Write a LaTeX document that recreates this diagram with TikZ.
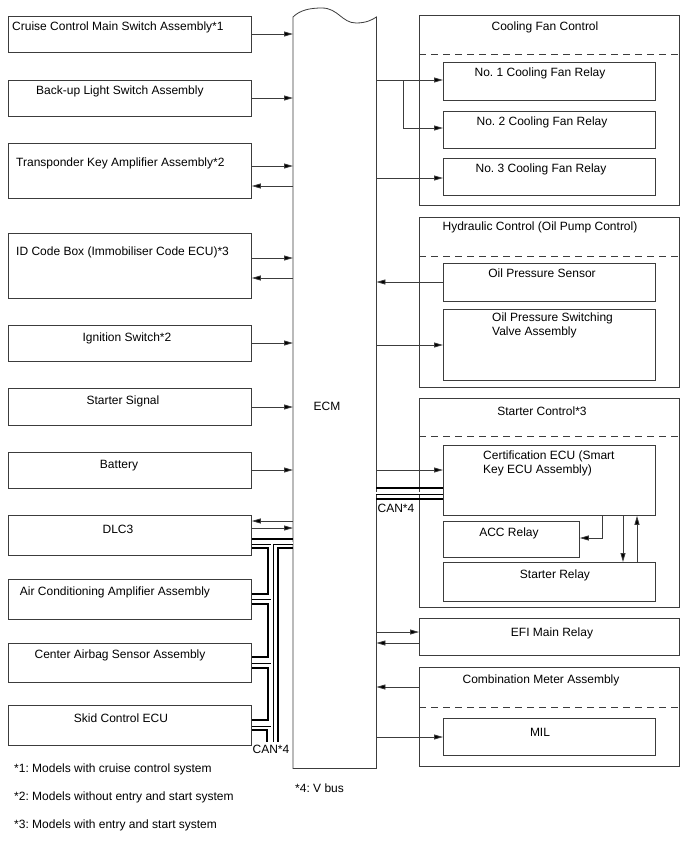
\documentclass[tikz,border=0pt]{standalone}
\usepackage{fontspec}
\setmainfont{Liberation Sans}
\usetikzlibrary{arrows.meta,positioning}
\definecolor{edge}{RGB}{60,60,60}
\newcommand{\lbl}{\fontsize{12}{14}\selectfont\frenchspacing}

\begin{document}
\begin{tikzpicture}[x=1pt,y=-1pt,
    unit/.style={draw=edge, line width=0.8pt, inner sep=0, anchor=north west},
    txt/.style={font=\lbl, inner sep=0, yshift=-1.5pt},
    sig/.style={draw=edge, line width=0.8pt, -{Triangle[length=9pt,width=5pt,fill=black]}},
    divider/.style={draw=edge, line width=0.8pt, dash pattern=on 7pt off 5pt},
    canh/.style={line width=2.6pt},
    canl/.style={line width=0.7pt, double=white, double distance=1.6pt}]
    \useasboundingbox (0,0) rectangle (688,852);

    % ECM
    \node[inner sep=0, anchor=north west, minimum width=83, minimum height=751] (ecm) at (293,17) {};
    \draw[draw=edge, line width=0.8pt] (ecm.north west) .. controls (300,10) and (310,8) .. (322,8)
        .. controls (338,8) and (342,23) .. (356,23) .. controls (366,23) and (372,20) .. (ecm.north east)
        -- (ecm.south east) -- (ecm.south west) -- cycle;
    \node[txt] (ecmtext) at (327,405) {ECM};

    % Inputs on the left
    \node[unit, minimum width=243, minimum height=36] (cruise) at (8,16) {};
    \node[unit, minimum width=243, minimum height=36] (backup) at (8,80) {};
    \node[unit, minimum width=243, minimum height=55] (transp) at (8,143) {};
    \node[unit, minimum width=243, minimum height=65] (idbox) at (8,233) {};
    \node[unit, minimum width=243, minimum height=36] (ignition) at (8,325) {};
    \node[unit, minimum width=243, minimum height=37] (startsig) at (8,388) {};
    \node[unit, minimum width=243, minimum height=36] (battery) at (8,452) {};
    \node[unit, minimum width=243, minimum height=40] (dlc3) at (8,515) {};
    \node[unit, minimum width=243, minimum height=40] (aircon) at (8,579) {};
    \node[unit, minimum width=243, minimum height=39] (airbag) at (8,643) {};
    \node[unit, minimum width=243, minimum height=40] (skid) at (8,705) {};

    \node[txt, anchor=west] (cruisetext) at (12,26) {Cruise Control Main Switch Assembly*1};
    \node[txt, anchor=west] (backuptext) at (36,90) {Back-up Light Switch Assembly};
    \node[txt, anchor=west] (transptext) at (16,162) {Transponder Key Amplifier Assembly*2};
    \node[txt, anchor=west] (idboxtext) at (16,251) {ID Code Box (Immobiliser Code ECU)*3};
    \node[txt] (ignitiontext) at (127,337) {Ignition Switch*2};
    \node[txt] (startsigtext) at (123,400) {Starter Signal};
    \node[txt] (batterytext) at (119,464) {Battery};
    \node[txt] (dlc3text) at (118,528) {DLC3};
    \node[txt] (aircontext) at (115,591) {Air Conditioning Amplifier Assembly};
    \node[txt] (airbagtext) at (120,654) {Center Airbag Sensor Assembly};
    \node[txt] (skidtext) at (121,717) {Skid Control ECU};

    \draw[sig] (cruise.east |- 0,34) -- (ecm.west |- 0,34);
    \draw[sig] (backup.east |- 0,98) -- (ecm.west |- 0,98);
    \draw[sig] (transp.east |- 0,166) -- (ecm.west |- 0,166);
    \draw[sig] (ecm.west |- 0,186) -- (transp.east |- 0,186);
    \draw[sig] (idbox.east |- 0,258) -- (ecm.west |- 0,258);
    \draw[sig] (ecm.west |- 0,278) -- (idbox.east |- 0,278);
    \draw[sig] (ignition.east |- 0,343) -- (ecm.west |- 0,343);
    \draw[sig] (startsig.east |- 0,407) -- (ecm.west |- 0,407);
    \draw[sig] (battery.east |- 0,470) -- (ecm.west |- 0,470);
    \draw[sig] (ecm.west |- 0,521) -- (dlc3.east |- 0,521);
    \draw[sig] (dlc3.east |- 0,528) -- (ecm.west |- 0,528);

    % CAN bus, left
    \coordinate (busa) at (267,742);
    \coordinate (busb) at (272,742);
    \coordinate (busc) at (278,742);
    \draw[canh] (dlc3.east |- 0,539) -- (ecm.west |- 0,539);
    \draw[canl] (dlc3.east |- 0,543) -- (ecm.west |- 0,543)
        (busb |- 0,543) -- (busb)
        (aircon.east |- 0,598) -- (busb |- 0,598)
        (airbag.east |- 0,662) -- (busb |- 0,662)
        (skid.east |- 0,725) -- (busb |- 0,725);
    \draw[canh] (ecm.west |- 0,548) -| (busc);
    \draw[canh] (dlc3.east |- 0,548) -- ++(16,0) |- (aircon.east |- 0,594);
    \draw[canh] (aircon.east |- 0,604) -- ++(16,0) |- (airbag.east |- 0,657);
    \draw[canh] (airbag.east |- 0,668) -- ++(16,0) |- (skid.east |- 0,720);
    \draw[canh] (skid.east |- 0,730) -| (busa);
    \node[txt] (canleft) at (271,748) {CAN*4};

    % Cooling fan control
    \node[unit, minimum width=260, minimum height=190] (fangrp) at (419,15) {};
    \draw[divider] (fangrp.west |- 0,54) -- (fangrp.east |- 0,54);
    \node[unit, minimum width=212, minimum height=38] (fan1) at (443,62) {};
    \node[unit, minimum width=212, minimum height=37] (fan2) at (443,111) {};
    \node[unit, minimum width=212, minimum height=37] (fan3) at (443,158) {};
    \node[txt] (fangrptext) at (545,26) {Cooling Fan Control};
    \node[txt] (fan1text) at (540,72) {No. 1 Cooling Fan Relay};
    \node[txt] (fan2text) at (542,121) {No. 2 Cooling Fan Relay};
    \node[txt] (fan3text) at (541,168) {No. 3 Cooling Fan Relay};
    \coordinate (fanfork) at (403,80);
    \draw[sig] (ecm.east |- 0,80) -- (fan1.west |- 0,80);
    \draw[sig] (fanfork) |- (fan2.west |- 0,128);
    \draw[sig] (ecm.east |- 0,178) -- (fan3.west |- 0,178);

    % Hydraulic control
    \node[unit, minimum width=260, minimum height=170] (oilgrp) at (419,217) {};
    \draw[divider] (oilgrp.west |- 0,256) -- (oilgrp.east |- 0,256);
    \node[unit, minimum width=212, minimum height=38] (oilsens) at (443,263) {};
    \node[unit, minimum width=212, minimum height=71] (oilvalve) at (443,309) {};
    \node[txt] (oilgrptext) at (540,226) {Hydraulic Control (Oil Pump Control)};
    \node[txt] (oilsenstext) at (542,272) {Oil Pressure Sensor};
    \node[txt, anchor=north west, align=left] (oilvalvetext) at (492,311) {Oil Pressure Switching\\Valve Assembly};
    \draw[sig] (oilsens.west |- 0,282) -- (ecm.east |- 0,282);
    \draw[sig] (ecm.east |- 0,345) -- (oilvalve.west |- 0,345);

    % Starter control
    \node[unit, minimum width=260, minimum height=209] (stgrp) at (419,398) {};
    \draw[divider] (stgrp.west |- 0,436) -- (stgrp.east |- 0,436);
    \node[unit, minimum width=212, minimum height=70] (certecu) at (443,445) {};
    \node[unit, minimum width=136, minimum height=36] (accrelay) at (443,521) {};
    \node[unit, minimum width=212, minimum height=39] (strelay) at (443,562) {};
    \node[txt] (stgrptext) at (542,410) {Starter Control*3};
    \node[txt, anchor=north west, align=left] (certecutext) at (483,449) {Certification ECU (Smart\\Key ECU Assembly)};
    \node[txt] (accrelaytext) at (509,532) {ACC Relay};
    \node[txt] (strelaytext) at (555,574) {Starter Relay};
    \draw[sig] (ecm.east |- 0,470) -- (certecu.west |- 0,470);
    \draw[canh] (ecm.east |- 0,488) -- (certecu.west |- 0,488);
    \draw[canl] (ecm.east |- 0,493) -- (certecu.west |- 0,493);
    \draw[canh] (ecm.east |- 0,499) -- (certecu.west |- 0,499);
    \node[txt] (canright) at (396,507) {CAN*4};
    \draw[sig] (certecu.south -| 602,0) |- (accrelay.east |- 0,538);
    \draw[sig] (certecu.south -| 623,0) -- (strelay.north -| 623,0);
    \draw[sig] (strelay.north -| 637,0) -- (certecu.south -| 637,0);

    % EFI main relay
    \node[unit, minimum width=260, minimum height=37] (efi) at (419,618) {};
    \node[txt] (efitext) at (552,632) {EFI Main Relay};
    \draw[sig] (ecm.east |- 0,632) -- (efi.west |- 0,632);
    \draw[sig] (efi.west |- 0,643) -- (ecm.east |- 0,643);

    % Combination meter
    \node[unit, minimum width=260, minimum height=99] (metergrp) at (419,667) {};
    \draw[divider] (metergrp.west |- 0,707) -- (metergrp.east |- 0,707);
    \node[unit, minimum width=212, minimum height=37] (mil) at (443,718) {};
    \node[txt] (metergrptext) at (541,679) {Combination Meter Assembly};
    \node[txt] (miltext) at (540,731) {MIL};
    \draw[sig] (metergrp.west |- 0,687) -- (ecm.east |- 0,687);
    \draw[sig] (ecm.east |- 0,737) -- (mil.west |- 0,737);

    % Notes
    \node[txt, anchor=west] (note1) at (14,768) {*1: Models with cruise control system};
    \node[txt, anchor=west] (note2) at (14,796) {*2: Models without entry and start system};
    \node[txt, anchor=west] (note3) at (14,824) {*3: Models with entry and start system};
    \node[txt, anchor=west] (note4) at (295,787) {*4: V bus};
\end{tikzpicture}
\end{document}
